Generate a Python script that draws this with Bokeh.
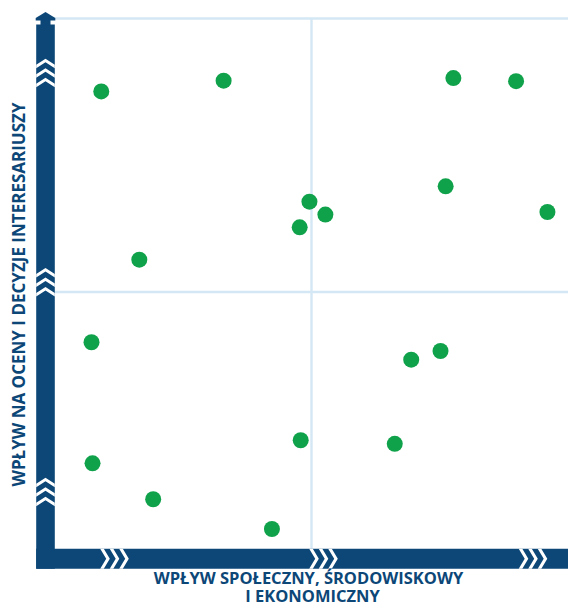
import math
from bokeh.plotting import figure
from bokeh.models import Range1d, Label
from bokeh.embed import file_html
from bokeh.resources import INLINE

# ---- data: impact scores (0-10 scale) ----
social_impact = [0.91, 3.29, 7.76, 8.98, 7.61, 9.59, 4.96, 5.27, 4.77, 1.65,
                 0.72, 6.94, 7.51, 4.79, 6.62, 0.74, 1.92, 4.23]
stakeholder_impact = [8.91, 9.12, 9.17, 9.11, 7.06, 6.56, 6.76, 6.51, 6.26, 5.63,
                      4.02, 3.68, 3.85, 2.11, 2.04, 1.66, 0.96, 0.38]
midpoint = 5.0
x_title_lines = ["WPŁYW SPOŁECZNY, ŚRODOWISKOWY", "I EKONOMICZNY"]
y_title = "WPŁYW NA OCENY I DECYZJE INTERESARIUSZY"

NAVY = "#0c4778"
GREEN = "#10a24b"
GRID = "#d4e7f5"

# ---- geometry (canvas px) ----
W, H = 568, 606
OX, OY = 54.0, 548.0      # canvas px of data origin
SX, SY = 51.4, 51.3       # px per unit


def dx(px):
    return (px - OX) / SX


def dy(py):
    return (OY - py) / SY


p = figure(width=W, height=H, output_backend="svg", toolbar_location=None,
           x_range=Range1d(dx(0), dx(W)),
           y_range=Range1d(dy(H), dy(0)),
           min_border=0, min_border_left=0, min_border_right=0,
           min_border_top=0, min_border_bottom=0)
p.axis.visible = False
p.grid.visible = False
p.outline_line_color = None
p.background_fill_color = "white"
p.border_fill_color = "white"

top_val = dy(18)
right_val = dx(W)

# grid lines: top border, mid horizontal, mid vertical
p.segment(x0=[0, 0, midpoint], y0=[top_val, midpoint, 0],
          x1=[right_val, right_val, midpoint], y1=[top_val, midpoint, top_val],
          line_color=GRID, line_width=2.4)

# ---- axis bars ----
bar_l, bar_r = 35.7, 54.3
bar_t, bar_b = 548.3, 568.3
cx = (bar_l + bar_r) / 2
# vertical bar
p.quad(left=[dx(bar_l)], right=[dx(bar_r)], top=[dy(24)], bottom=[dy(bar_b)],
       fill_color=NAVY, line_color=None)
# stem + arrow head
p.quad(left=[dx(40)], right=[dx(50)], top=[dy(19)], bottom=[dy(25)],
       fill_color=NAVY, line_color=None)
p.patch(x=[dx(bar_l - 0.5), dx(cx), dx(bar_r + 0.5), dx(bar_r + 0.5), dx(bar_l - 0.5)],
        y=[dy(17.5), dy(11.5), dy(17.5), dy(20), dy(20)],
        fill_color=NAVY, line_color=None)
# horizontal bar
p.quad(left=[dx(bar_l)], right=[dx(W)], top=[dy(bar_t)], bottom=[dy(bar_b)],
       fill_color=NAVY, line_color=None)

# ---- chevrons ----
ch_h, ch_t, ch_gap = 6.0, 3.6, 9.5
xs, ys = [], []
for gc in [72.5, 281.7, 491.5]:
    start = gc - (2 * ch_gap + ch_h + ch_t) / 2
    for k in range(3):
        a = start + k * ch_gap
        pts = [(bar_l, a + ch_h), (cx, a), (bar_r, a + ch_h),
               (bar_r, a + ch_h + ch_t), (cx, a + ch_t), (bar_l, a + ch_h + ch_t)]
        xs.append([dx(u) for u, v in pts])
        ys.append([dy(v) for u, v in pts])
cy = (bar_t + bar_b) / 2
for gc in [114.0, 323.0, 532.5]:
    start = gc - (2 * ch_gap + ch_h + ch_t) / 2
    for k in range(3):
        a = start + k * ch_gap
        pts = [(a, bar_t), (a + ch_h, cy), (a, bar_b),
               (a + ch_t, bar_b), (a + ch_h + ch_t, cy), (a + ch_t, bar_t)]
        xs.append([dx(u) for u, v in pts])
        ys.append([dy(v) for u, v in pts])
p.patches(xs=xs, ys=ys, fill_color="white", line_color=None)

# ---- data points ----
p.scatter(x=social_impact, y=stakeholder_impact, size=16,
          fill_color=GREEN, line_color=None)

# ---- titles ----
common = dict(text_font="Open Sans", text_font_style="bold", text_color=NAVY)
p.add_layout(Label(x=dx(18), y=dy(294), text=y_title, angle=math.pi / 2,
                   text_align="center", text_baseline="middle",
                   text_font_size="17px", **common))
p.add_layout(Label(x=dx(308), y=dy(565.5), text=x_title_lines[0],
                   text_align="center", text_baseline="top",
                   text_font_size="16.5px", **common))
p.add_layout(Label(x=dx(312), y=dy(606.5), text=x_title_lines[1],
                   text_align="center", text_baseline="bottom",
                   text_font_size="16.5px", **common))

open("out.html", "w").write(file_html(p, INLINE))
